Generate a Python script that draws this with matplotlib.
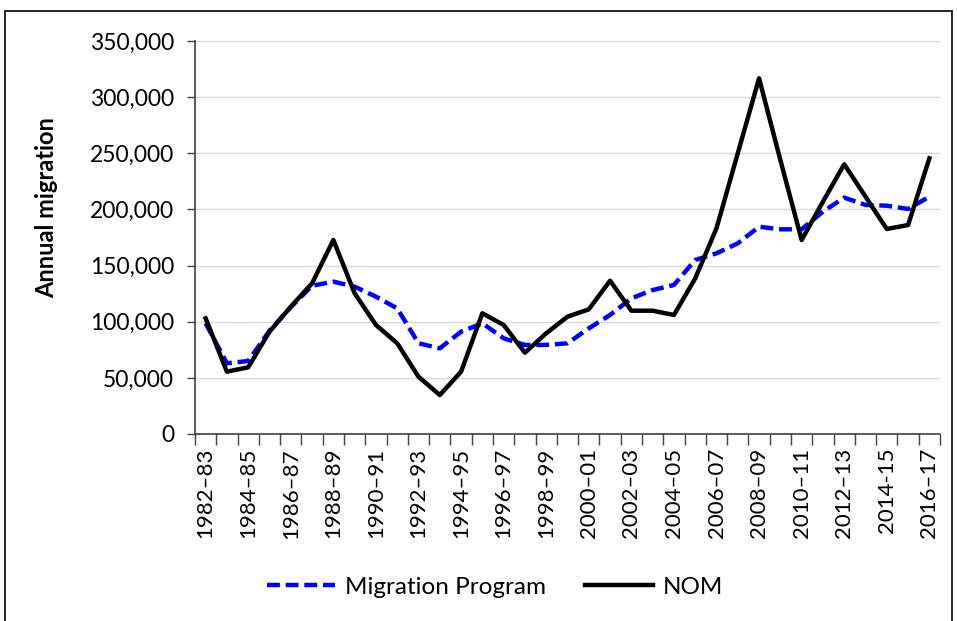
import matplotlib.pyplot as plt
import matplotlib.patches

years = ['1982\u201383', '1983\u201384', '1984\u201385', '1985\u201386', '1986\u201387',
         '1987\u201388', '1988\u201389', '1989\u201390', '1990\u201391', '1991\u201392',
         '1992\u201393', '1993\u201394', '1994\u201395', '1995\u201396', '1996\u201397',
         '1997\u201398', '1998\u201399', '1999\u201300', '2000\u201301', '2001\u201302',
         '2002\u201303', '2003\u201304', '2004\u201305', '2005\u201306', '2006\u201307',
         '2007\u201308', '2008\u201309', '2009\u201310', '2010\u201311', '2011\u201312',
         '2012\u201313', '2013\u201314', '2014-15', '2015\u201316', '2016\u201317']
program = [98600, 63000, 65000, 92000, 113000, 132000, 135700, 131200, 122300, 111900,
           80800, 76300, 91100, 98600, 85200, 79300, 79300, 80800, 94100, 106000,
           120800, 128200, 132700, 155000, 160900, 169800, 184600, 182300, 182300, 198000,
           210500, 204000, 203300, 200400, 211400]
nom = [103000, 55500, 59400, 91100, 113400, 134200, 172800, 125300, 97100, 80800,
       51000, 34700, 55500, 107500, 97100, 72400, 89700, 104500, 111000, 136500,
       109800, 109800, 106000, 138600, 183200, 250000, 316800, 244000, 172800, 206900,
       240200, 211400, 182600, 186100, 245500]

plt.rcParams['font.family'] = ['Lato', 'DejaVu Sans']

fig = plt.figure(figsize=(9.57, 6.21), dpi=100)
ax = fig.add_axes([195/957, 1-434/621, (940-195)/957, (434-41)/621])

x = list(range(len(years)))
ax.plot(x, program, color='#0000ff', lw=3.2, ls=(0, (2.9, 1.3)), label='Migration Program')
ax.plot(x, nom, color='black', lw=3.2, label='NOM')

ax.set_xlim(-0.5, len(years) - 0.5)
ax.set_ylim(0, 350000)
ax.set_yticks(range(0, 350001, 50000))
ax.set_yticklabels(['{:,}'.format(v) for v in range(0, 350001, 50000)], fontsize=16.5)
ax.tick_params(axis='y', length=6, width=1, color='#404040', pad=9)
ax.grid(axis='y', color='#d9d9d9', lw=1)
ax.set_axisbelow(True)

ax.set_xticks([i - 0.5 for i in range(len(years) + 1)], minor=True)
ax.set_xticks(x[::2])
ax.set_xticklabels(years[::2], rotation=90, fontsize=16)
ax.tick_params(axis='x', which='major', length=0, pad=10)
ax.tick_params(axis='x', which='minor', length=8, width=1, color='#404040')

for s in ['top', 'right']:
    ax.spines[s].set_visible(False)
for s in ['left', 'bottom']:
    ax.spines[s].set_color('#404040')
    ax.spines[s].set_linewidth(1.2)

ax.set_ylabel('Annual migration', fontsize=17, fontweight='bold')
ax.yaxis.set_label_coords(-0.184, 0.575)

ax.legend(loc='center', frameon=False, ncol=2, fontsize=17.5, handlelength=2.8,
          columnspacing=1.6, handletextpad=0.4,
          bbox_to_anchor=(495/957, 1 - 587/621), bbox_transform=fig.transFigure)

border = matplotlib.patches.Rectangle((5/957, -0.05), (952-5)/957, 1 - 11/621 + 0.05,
                                      transform=fig.transFigure, fill=False,
                                      edgecolor='black', lw=1.2)
fig.patches.append(border)

fig.savefig('out.png', dpi=100)
